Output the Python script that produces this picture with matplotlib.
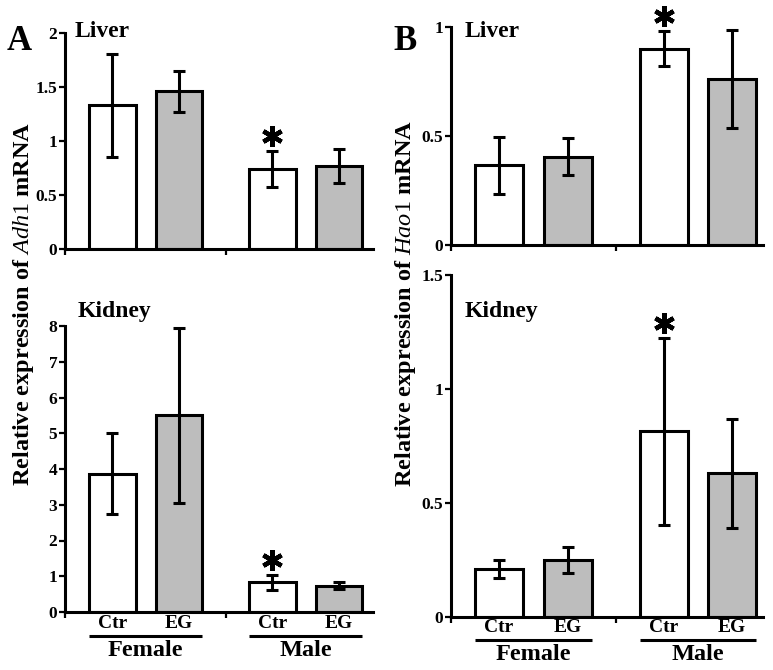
import matplotlib
matplotlib.use("Agg")
import matplotlib.pyplot as plt
from matplotlib.ticker import FuncFormatter
from matplotlib.transforms import offset_copy

plt.rcParams['font.family'] = ['Liberation Serif', 'DejaVu Serif']
plt.rcParams['mathtext.fontset'] = 'custom'
plt.rcParams['mathtext.it'] = 'Liberation Serif:italic'
plt.rcParams['mathtext.rm'] = 'Liberation Serif'

# ---- data ----
groups = ["Ctr", "EG", "Ctr", "EG"]
sexes = ["Female", "Male"]

adh1_liver = [1.33, 1.46, 0.74, 0.77]
adh1_liver_err = [0.48, 0.19, 0.17, 0.16]
adh1_kidney = [3.87, 5.50, 0.83, 0.73]
adh1_kidney_err = [1.13, 2.45, 0.21, 0.10]

hao1_liver = [0.365, 0.405, 0.90, 0.76]
hao1_liver_err = [0.13, 0.085, 0.08, 0.225]
hao1_kidney = [0.21, 0.25, 0.815, 0.63]
hao1_kidney_err = [0.04, 0.055, 0.41, 0.24]

star_index = 2  # Male Ctr significant

positions = [0, 1, 2.4, 3.4]
colors = ["white", "#bdbdbd", "white", "#bdbdbd"]

W, H = 773, 670
fig = plt.figure(figsize=(W / 100, H / 100), dpi=100)


def add_axes(left, right, bottom, top):
    ax = fig.add_axes([left / W, 1 - bottom / H, (right - left) / W, (bottom - top) / H])
    ax._hpx = bottom - top
    return ax


def fmt(v, p):
    return ("%g" % v)


def draw(ax, vals, errs, ymax, yticks, xlim, show_x=False, lab_off=(11, 24, 37)):
    ax.bar(positions, vals, width=0.70, color=colors, edgecolor="black", linewidth=2.2, zorder=2)
    ax.errorbar(positions, vals, yerr=errs, fmt="none", ecolor="black", elinewidth=2.2,
                capsize=4.5, capthick=2.2, zorder=3)
    ax.set_ylim(0, ymax)
    ax.set_xlim(*xlim)
    ax.set_yticks(yticks)
    ax.yaxis.set_major_formatter(FuncFormatter(fmt))
    for s in ["top", "right"]:
        ax.spines[s].set_visible(False)
    for s in ["left", "bottom"]:
        ax.spines[s].set_linewidth(2.2)
    ax.tick_params(axis="y", direction="out", length=4, width=1.6, pad=1.5, labelsize=12.5)
    for t in ax.get_yticklabels():
        t.set_fontweight("bold")
    ax.set_xticks([xlim[0], (positions[1] + positions[2]) / 2])
    ax.set_xticklabels([])
    ax.tick_params(axis="x", direction="out", length=4, width=1.6)
    # significance star, 15 px above the error cap
    i = star_index
    tr = offset_copy(ax.transData, fig=fig, x=0, y=15, units="dots")
    ax.plot([positions[i]], [vals[i] + errs[i]], transform=tr, marker=(6, 2, 0),
            markersize=15, markeredgewidth=3.2, color="black", clip_on=False, zorder=4)
    if show_x:
        trans = ax.get_xaxis_transform()
        hp = ax._hpx
        c, u, f = lab_off
        for p, g in zip(positions, groups):
            ax.text(p, -c / hp, g, transform=trans, ha="center", va="center",
                    fontsize=14, fontweight="bold", clip_on=False)
        for k, sx in enumerate(sexes):
            a, b = positions[2 * k] - 0.35, positions[2 * k + 1] + 0.35
            ax.plot([a, b], [-u / hp, -u / hp], transform=trans, color="black", lw=2.2,
                    clip_on=False, solid_capstyle="butt")
            ax.text((a + b) / 2, -f / hp, sx, transform=trans, ha="center", va="center",
                    fontsize=17.5, fontweight="bold", clip_on=False)


# Panel A
axA1 = add_axes(65, 373, 249, 33)
draw(axA1, adh1_liver, adh1_liver_err, 2, [0, 0.5, 1, 1.5, 2], (-0.71, 3.91))
axA2 = add_axes(65, 373, 612, 326)
draw(axA2, adh1_kidney, adh1_kidney_err, 8, list(range(9)), (-0.71, 3.91), show_x=True,
     lab_off=(11, 24, 38))

# Panel B
axB1 = add_axes(451, 763, 245, 27)
draw(axB1, hao1_liver, hao1_liver_err, 1, [0, 0.5, 1], (-0.70, 3.85))
axB2 = add_axes(451, 763, 617, 275)
draw(axB2, hao1_kidney, hao1_kidney_err, 1.5, [0, 0.5, 1, 1.5], (-0.70, 3.85), show_x=True,
     lab_off=(11, 23, 37))

# panel titles (baseline positions in pixels)
for x, y, s in [(75, 37, "Liver"), (78, 317, "Kidney"), (465, 37, "Liver"), (465, 317, "Kidney")]:
    fig.text(x / W, 1 - y / H, s, fontsize=17, fontweight="bold", ha="left", va="baseline")

fig.text(7 / W, 1 - 50 / H, "A", fontsize=25, fontweight="bold", ha="left", va="baseline")
fig.text(393 / W, 1 - 50 / H, "B", fontsize=25, fontweight="bold", ha="left", va="baseline")

fig.text(24 / W, 1 - 304 / H, r"Relative expression of $\mathit{Adh1}$ mRNA", rotation=90,
         fontsize=17.5, fontweight="bold", ha="center", va="center")
fig.text(406 / W, 1 - 304 / H, r"Relative expression of $\mathit{Hao1}$ mRNA", rotation=90,
         fontsize=17.5, fontweight="bold", ha="center", va="center")

fig.savefig("out.png", dpi=100, facecolor="white")
